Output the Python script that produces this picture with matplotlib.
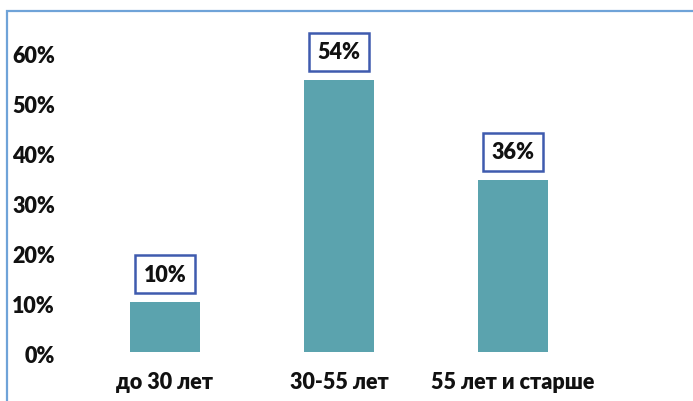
import matplotlib
matplotlib.use("Agg")
import matplotlib.pyplot as plt
import matplotlib.transforms as mtransforms
from matplotlib.patches import Rectangle

categories = ["до 30 лет", "30-55 лет", "55 лет и старше"]
values = [10, 54.5, 34.5]
value_labels = ["10%", "54%", "36%"]
yticks = [0, 10, 20, 30, 40, 50, 60]
ytick_labels = ["0%", "10%", "20%", "30%", "40%", "50%", "60%"]

plt.rcParams['font.family'] = ['Lato', 'DejaVu Sans']

fig = plt.figure(figsize=(6.93, 4.02), dpi=100)
# outer frame
fig.patches.append(Rectangle((6.5/693, -0.1), 1.2, (402-11.5)/402 + 0.1, transform=fig.transFigure,
                             fill=False, edgecolor="#6FA3D8", linewidth=1.6))

ax = fig.add_axes([78/693, (402-353)/402, (600-78)/693, (353-53)/402 * 65/60])
ax.set_ylim(0, 65)
ax.set_xlim(-0.5, 2.5)
x = list(range(len(categories)))
bars = ax.bar(x, values, width=0.4, color="#5BA3AE")
fs = 15.5
for b, lab in zip(bars, value_labels):
    ax.annotate(lab, (b.get_x() + b.get_width()/2, b.get_height()), xytext=(0, 20),
                textcoords="offset points", ha="center", va="center",
                fontsize=fs, fontweight="heavy", color="#111111",
                bbox=dict(boxstyle="square,pad=0.4", facecolor="white", edgecolor="#3F5BAE", linewidth=1.8))

ax.set_yticks(yticks)
ax.set_yticklabels(ytick_labels, fontsize=fs, fontweight="heavy", color="#111111")
ax.set_xticks(x)
ax.set_xticklabels(categories, fontsize=fs, fontweight="heavy", color="#111111")
ax.tick_params(axis="both", length=0)
ax.tick_params(axis="y", pad=16.5)
ax.tick_params(axis="x", pad=14)
off = mtransforms.ScaledTranslation(0, -2/100, fig.dpi_scale_trans)
for t in ax.get_yticklabels():
    t.set_transform(t.get_transform() + off)
for s in ax.spines.values():
    s.set_visible(False)

fig.savefig("out.png", dpi=100)
